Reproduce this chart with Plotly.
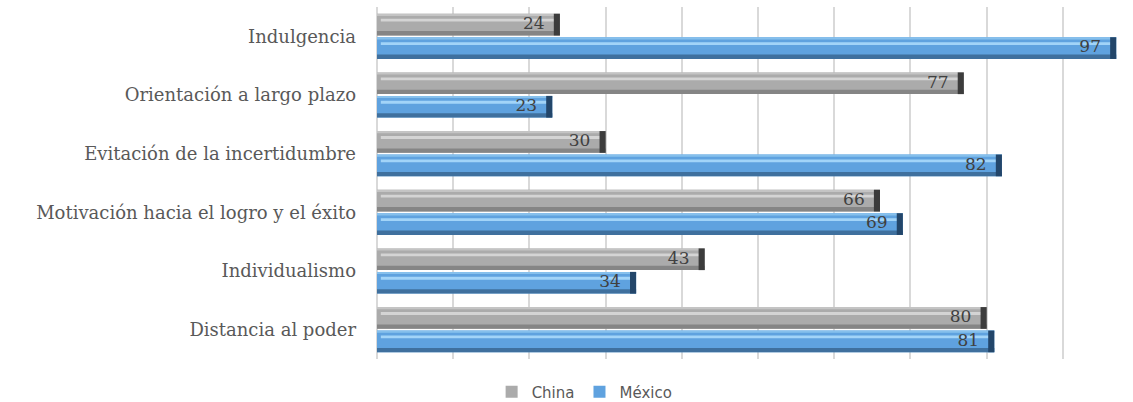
import plotly.graph_objects as go

categories = ["Distancia al poder", "Individualismo",
              "Motivación hacia el logro y el éxito",
              "Evitación de la incertidumbre",
              "Orientación a largo plazo", "Indulgencia"]
china = [80, 43, 66, 30, 77, 24]
mexico = [81, 34, 69, 82, 23, 97]

series = [
    dict(name="China", vals=china, off=0.015, mid="#ababab", light="#d4d4d4",
         top="#c4c4c4", dark="#858585", cap="#3c3c3c"),
    dict(name="México", vals=mexico, off=-0.385, mid="#5fa2df", light="#a2d4f8",
         top="#86c0ec", dark="#3f709e", cap="#23466a"),
]
W = 0.37
pos = list(range(len(categories)))

fig = go.Figure()
for s in series:
    v = s["vals"]
    # main bar
    fig.add_trace(go.Bar(y=pos, x=v, orientation="h", name=s["name"],
                         offset=s["off"], width=W, marker_color=s["mid"],
                         marker_line_width=0, hoverinfo="skip"))
    # bottom shadow
    fig.add_trace(go.Bar(y=pos, x=v, orientation="h", showlegend=False,
                         offset=s["off"], width=W * 0.2,
                         marker_color=s["dark"], marker_line_width=0,
                         hoverinfo="skip"))
    # top edge
    fig.add_trace(go.Bar(y=pos, x=v, orientation="h", showlegend=False,
                         offset=s["off"] + W * 0.9, width=W * 0.1,
                         marker_color=s["top"], marker_line_width=0,
                         hoverinfo="skip"))
    # highlight stripe
    fig.add_trace(go.Bar(y=pos, x=[a - 1.0 for a in v], base=[0.5] * len(v),
                         orientation="h", showlegend=False,
                         offset=s["off"] + W * 0.64, width=W * 0.13,
                         marker_color=s["light"], marker_line_width=0,
                         hoverinfo="skip"))
    # dark end cap
    fig.add_trace(go.Bar(y=pos, x=[0.8] * len(v), base=[a - 0.8 for a in v],
                         orientation="h", showlegend=False,
                         offset=s["off"], width=W,
                         marker_color=s["cap"], marker_line_width=0,
                         hoverinfo="skip"))
    # value labels
    fig.add_trace(go.Scatter(y=[p + s["off"] + W / 2 for p in pos],
                             x=[a - 2.0 for a in v], mode="text",
                             text=[str(a) for a in v],
                             textposition="middle left", showlegend=False,
                             textfont=dict(family="DejaVu Serif", size=17,
                                           color="#404040"),
                             hoverinfo="skip"))

fig.update_layout(
    width=1133, height=402,
    margin=dict(l=377, r=0, t=7, b=43, autoexpand=False),
    barmode="overlay",
    plot_bgcolor="white", paper_bgcolor="white",
    font=dict(family="DejaVu Serif", size=18, color="#595959"),
    xaxis=dict(range=[0, 99.2], dtick=10, showticklabels=False,
               showgrid=True, gridcolor="#d9d9d9", gridwidth=1.5,
               zeroline=True, zerolinecolor="#d9d9d9", zerolinewidth=1.5,
               showline=False, fixedrange=True),
    yaxis=dict(range=[-0.5, 5.5], tickvals=pos, ticktext=categories,
               showgrid=False, zeroline=False, showline=False,
               ticks="", ticklabelstandoff=20,
               tickfont=dict(family="DejaVu Serif", size=18, color="#595959")),
    legend=dict(orientation="h", xref="container", yref="container",
                x=0.516, y=0.025, xanchor="center", yanchor="middle",
                font=dict(family="DejaVu Sans", size=15, color="#595959"),
                traceorder="normal"),
    showlegend=True,
)
fig.write_html("out.html")
